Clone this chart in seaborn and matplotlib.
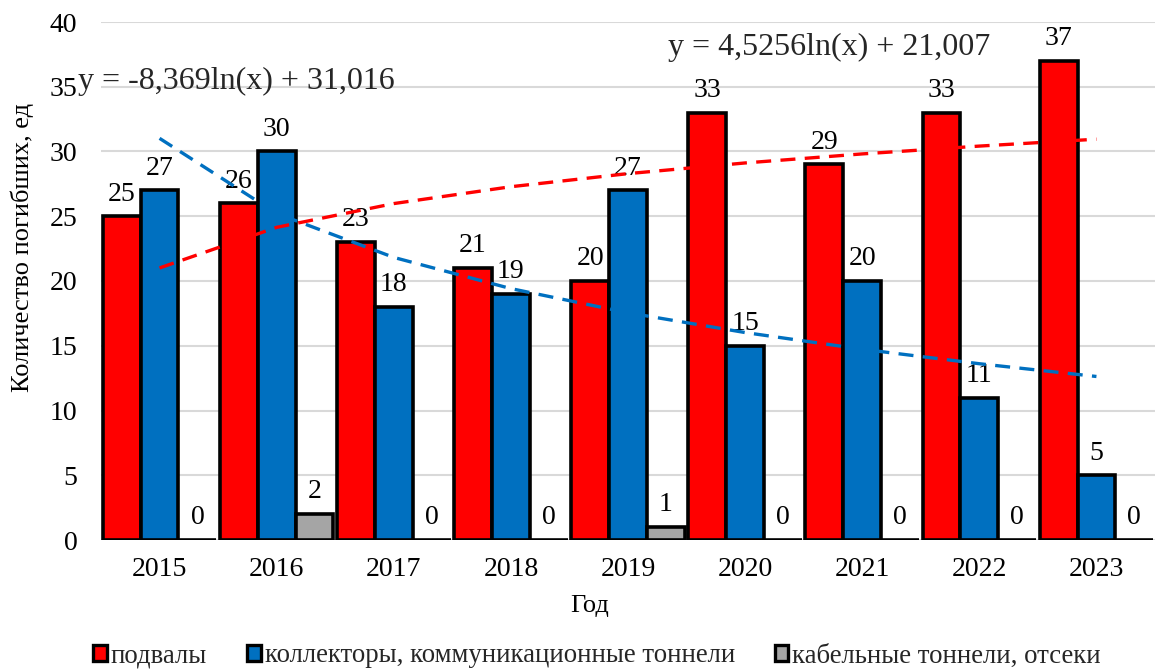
import numpy as np
import pandas as pd
import matplotlib
matplotlib.use("Agg")
import matplotlib.pyplot as plt
import seaborn as sns
from matplotlib.patches import Patch

years = ["2015", "2016", "2017", "2018", "2019", "2020", "2021", "2022", "2023"]
basements = [25, 26, 23, 21, 20, 33, 29, 33, 37]
collectors = [27, 30, 18, 19, 27, 15, 20, 11, 5]
cable_tunnels = [0, 2, 0, 0, 1, 0, 0, 0, 0]
series_names = ["подвалы", "коллекторы, коммуникационные тоннели", "кабельные тоннели, отсеки"]
colors = ["#FF0000", "#0070C0", "#A5A5A5"]
yticks = [0, 5, 10, 15, 20, 25, 30, 35, 40]
eq_red = "y = 4,5256ln(x) + 21,007"
eq_blue = "y = -8,369ln(x) + 31,016"

sns.set_theme(style="white")
plt.rcParams["font.family"] = ["Liberation Serif", "DejaVu Serif"]

df = pd.DataFrame({
    "year": years * 3,
    "value": basements + collectors + cable_tunnels,
    "series": [series_names[0]] * 9 + [series_names[1]] * 9 + [series_names[2]] * 9,
})

fig = plt.figure(figsize=(11.55, 6.7), dpi=100)
ax = fig.add_axes([101 / 1155, 130 / 670, 1054 / 1155, 518 / 670])

sns.barplot(data=df, x="year", y="value", hue="series", hue_order=series_names,
            palette=colors, saturation=1, errorbar=None, width=0.97,
            edgecolor="black", linewidth=2.6, ax=ax, legend=False, zorder=3)

for cont in ax.containers:
    ax.bar_label(cont, padding=7, fontsize=20, color="black")

# logarithmic trendlines fitted to the data
xs = np.arange(1, len(years) + 1)
for vals, col in [(basements, colors[0]), (collectors, colors[1])]:
    a, b = np.polyfit(np.log(xs), np.array(vals, dtype=float), 1)
    ax.plot(xs - 1, a * np.log(xs) + b, color=col, lw=2.4,
            dashes=(4.5, 2.8), zorder=4)

fig.text(668 / 1155, 1 - 47 / 670, eq_red, fontsize=23, va="center", ha="left")
fig.text(78 / 1155, 1 - 81 / 670, eq_blue, fontsize=23, va="center", ha="left")

ax.set_xlim(-0.5, len(years) - 0.5)
ax.set_ylim(0, 40)
ax.set_yticks(yticks)
ax.grid(axis="y", color="#D9D9D9", lw=1.5, zorder=0)
ax.grid(axis="x", visible=False)
for s in ax.spines.values():
    s.set_visible(False)
ax.tick_params(axis="y", length=0, pad=17, labelsize=20, colors="black")
ax.tick_params(axis="x", length=0, pad=12, labelsize=20, colors="black")

ax.set_ylabel("Количество погибших, ед", fontsize=19, color="black")
ax.yaxis.label.set_va("center")
ax.yaxis.set_label_coords(-0.075, 0.564)
ax.set_xlabel("Год", fontsize=19, color="black")
ax.xaxis.label.set_va("center")
ax.xaxis.set_label_coords(0.4635, -0.128)

handles = [Patch(facecolor=c, edgecolor="black", lw=2.4) for c in colors]
fig.legend(handles, series_names, loc="center", bbox_to_anchor=(0.517, 1 - 656 / 670),
           ncol=3, frameon=False, fontsize=19.3, handlelength=0.5, handleheight=0.55,
           handletextpad=0.15, columnspacing=1.5)

fig.savefig("out.png", dpi=100)
